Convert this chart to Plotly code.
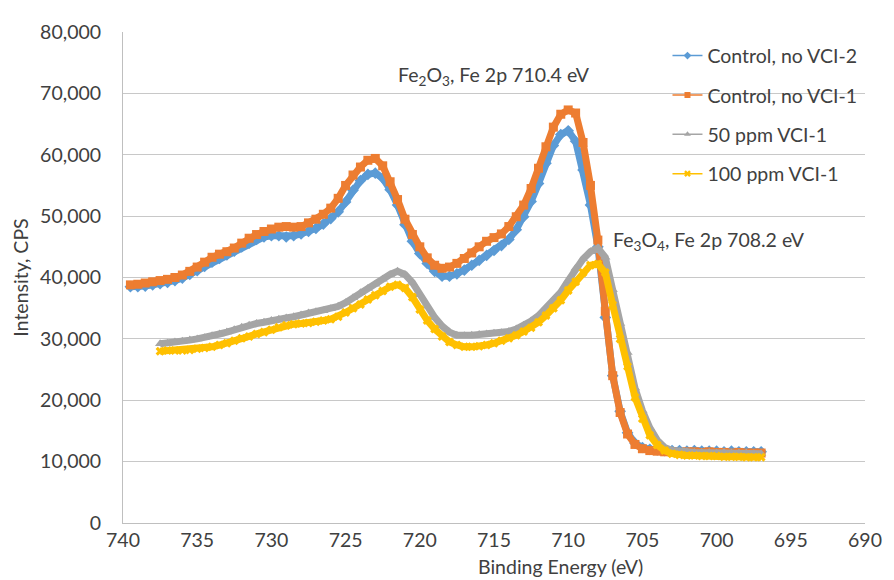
import plotly.graph_objects as go

# ---------------- data ----------------
energy_ctrl = [739.5, 739.0, 738.5, 738.0, 737.5, 737.0, 736.5, 736.0, 735.5, 735.0,
               734.5, 734.0, 733.5, 733.0, 732.5, 732.0, 731.5, 731.0, 730.5, 730.0,
               729.5, 729.0, 728.5, 728.0, 727.5, 727.0, 726.5, 726.0, 725.5, 725.0,
               724.5, 724.0, 723.5, 723.0, 722.5, 722.0, 721.5, 721.0, 720.5, 720.0,
               719.5, 719.0, 718.5, 718.0, 717.5, 717.0, 716.5, 716.0, 715.5, 715.0,
               714.5, 714.0, 713.5, 713.0, 712.5, 712.0, 711.5, 711.0, 710.5, 710.0,
               709.5, 709.0, 708.5, 708.0, 707.5, 707.0, 706.5, 706.0, 705.5, 705.0,
               704.5, 704.0, 703.5, 703.0, 702.5, 702.0, 701.5, 701.0, 700.5, 700.0,
               699.5, 699.0, 698.5, 698.0, 697.5, 697.0]

control_vci2 = [38500, 38500, 38600, 38800, 39000, 39200, 39500, 39900, 40500, 41100,
                41800, 42500, 43100, 43700, 44300, 45000, 45600, 46200, 46600, 46800,
                46800, 46600, 46800, 47100, 47500, 48000, 48700, 49600, 50700, 52300,
                54200, 55800, 56800, 57000, 56200, 54300, 51800, 48600, 45900, 43900,
                42300, 41000, 40200, 40200, 40600, 41200, 42000, 42800, 43600, 44400,
                45200, 46200, 47800, 49900, 52400, 55300, 58600, 61500, 63300, 63900,
                62200, 57500, 51800, 45000, 33500, 24000, 18200, 14700, 13000, 12300,
                12000, 11900, 11800, 11800, 11800, 11700, 11800, 11700, 11700, 11700,
                11600, 11700, 11600, 11600, 11600, 11600]

control_vci1 = [38800, 38900, 39100, 39300, 39500, 39700, 40000, 40400, 41000, 41700,
                42500, 43300, 43800, 44200, 44800, 45600, 46400, 47000, 47500, 47900,
                48200, 48300, 48200, 48300, 48900, 49500, 50300, 51300, 52900, 55000,
                56700, 58000, 59100, 59400, 58200, 55600, 52700, 49500, 47000, 45000,
                43200, 42000, 41500, 41700, 42300, 43100, 44000, 45000, 45900, 46500,
                47100, 48300, 49900, 51800, 54500, 57800, 61300, 64500, 66600, 67300,
                66800, 62000, 55000, 46100, 34500, 24000, 18000, 14500, 12800, 12100,
                11800, 11700, 11600, 11600, 11500, 11600, 11600, 11500, 11600, 11500,
                11500, 11400, 11500, 11400, 11400, 11400]

energy_vci = [737.5, 737.0, 736.5, 736.0, 735.5, 735.0,
              734.5, 734.0, 733.5, 733.0, 732.5, 732.0, 731.5, 731.0, 730.5, 730.0,
              729.5, 729.0, 728.5, 728.0, 727.5, 727.0, 726.5, 726.0, 725.5, 725.0,
              724.5, 724.0, 723.5, 723.0, 722.5, 722.0, 721.5, 721.0, 720.5, 720.0,
              719.5, 719.0, 718.5, 718.0, 717.5, 717.0, 716.5, 716.0, 715.5, 715.0,
              714.5, 714.0, 713.5, 713.0, 712.5, 712.0, 711.5, 711.0, 710.5, 710.0,
              709.5, 709.0, 708.5, 708.0, 707.5, 707.0, 706.5, 706.0, 705.5, 705.0,
              704.5, 704.0, 703.5, 703.0, 702.5, 702.0, 701.5, 701.0, 700.5, 700.0,
              699.5, 699.0, 698.5, 698.0, 697.5, 697.0]

vci_50ppm = [29200, 29300, 29500, 29600, 29800, 30000,
             30200, 30500, 30800, 31100, 31500, 31900, 32200, 32500, 32700, 33000,
             33200, 33400, 33600, 33900, 34200, 34400, 34600, 34900, 35300, 35900,
             36700, 37500, 38200, 38900, 39700, 40500, 41000, 40500, 39200, 37200,
             35300, 33500, 32100, 31100, 30600, 30500, 30600, 30700, 30800, 30900,
             31000, 31200, 31600, 32200, 32900, 33800, 35000, 36300, 37600, 39500,
             41500, 43000, 44200, 44800, 43300, 38000, 32500, 27800, 22000, 18300,
             15500, 13500, 12300, 11800, 11600, 11600, 11500, 11500, 11500, 11400,
             11500, 11400, 11400, 11400, 11300, 11300]

vci_100ppm = [28000, 28100, 28100, 28100, 28200, 28400,
              28500, 28700, 29000, 29300, 29700, 30100, 30400, 30800, 31100, 31500,
              31900, 32200, 32400, 32500, 32600, 32800, 33000, 33200, 33600, 34300,
              35000, 35600, 36400, 37100, 37800, 38500, 38800, 38300, 36800, 34800,
              33000, 31600, 30400, 29500, 29000, 28700, 28700, 28800, 29000, 29300,
              29700, 30100, 30600, 31200, 31800, 32700, 33800, 35000, 36300, 37900,
              39300, 40800, 42000, 42200, 40800, 35500, 30000, 25500, 20500, 17000,
              14300, 12700, 11800, 11300, 11100, 11000, 11000, 10900, 10900, 10900,
              10800, 10800, 10800, 10700, 10700, 10700]

series_names = ["Control, no VCI-2", "Control, no VCI-1", "50 ppm VCI-1", "100 ppm VCI-1"]
x_ticks = [740, 735, 730, 725, 720, 715, 710, 705, 700, 695, 690]
y_ticks = [0, 10000, 20000, 30000, 40000, 50000, 60000, 70000, 80000]

# ---------------- style ----------------
colors = ["#5B9BD5", "#ED7D31", "#A5A5A5", "#FFC000"]
symbols = ["diamond", "square", "triangle-up", "x"]
FONT = "Lato, 'Open Sans', sans-serif"
TXT = "#404040"
FS = 19.5

data = [
    (energy_ctrl, control_vci2),
    (energy_ctrl, control_vci1),
    (energy_vci, vci_50ppm),
    (energy_vci, vci_100ppm),
]

fig = go.Figure()
for i, (xs, ys) in enumerate(data):
    fig.add_trace(go.Scatter(
        x=xs, y=ys, mode="lines+markers", showlegend=False,
        line=dict(color=colors[i], width=7),
        marker=dict(color=colors[i], size=9 if i != 3 else 8,
                    symbol=symbols[i], line=dict(width=0)),
        hoverinfo="skip",
    ))

for i, name in enumerate(series_names):
    fig.add_trace(go.Scatter(
        x=[None], y=[None], mode="lines+markers", name=name,
        legendgroup=f"g{i}",
        line=dict(color=colors[i], width=1.5),
        marker=dict(color=colors[i], size=6, symbol=symbols[i]),
    ))

# the page body has an 8px default margin, so the figure is sized/margined to
# place the plot area at the reference position inside the 894x580 window
fig.update_layout(
    width=886, height=572,
    margin=dict(l=109, r=20, t=17, b=57),
    paper_bgcolor="white", plot_bgcolor="white",
    font=dict(family=FONT, size=FS, color=TXT),
    showlegend=True,
    legend=dict(x=0.7338, y=0.991, xanchor="left", yanchor="top",
                bgcolor="rgba(255,255,255,0)", traceorder="grouped",
                tracegroupgap=11, font=dict(size=FS, color=TXT),
                itemwidth=30),
    shapes=[dict(type="rect", xref="paper", yref="paper",
                 x0=0.724, x1=1.0, y0=0.769, y1=0.96,
                 fillcolor="white", line=dict(width=0), layer="between")],
)

fig.update_xaxes(
    range=[740, 690], tickvals=x_ticks, ticktext=[str(v) for v in x_ticks],
    showgrid=False, zeroline=False, showline=True, linecolor="#BFBFBF",
    linewidth=1, ticks="", ticklabelstandoff=0,
    tickfont=dict(size=FS, color=TXT),
)
fig.update_yaxes(
    range=[0, 80000], tickvals=y_ticks, tickformat=",d",
    showgrid=True, gridcolor="#C8C8C8", gridwidth=1,
    zeroline=False, showline=True, linecolor="#BFBFBF", linewidth=1,
    ticks="", ticklabelstandoff=17,
    tickfont=dict(size=FS, color=TXT),
    title=dict(text="Intensity, CPS", font=dict(size=FS, color=TXT), standoff=6),
)

fig.add_annotation(
    x=721.6, y=72800, xref="x", yref="y", xanchor="left", yanchor="middle",
    text="Fe<sub>2</sub>O<sub>3</sub>, Fe 2p 710.4 eV", showarrow=False,
    font=dict(size=FS, color=TXT),
)
fig.add_annotation(
    x=707.1, y=45900, xref="x", yref="y", xanchor="left", yanchor="middle",
    text="Fe<sub>3</sub>O<sub>4</sub>, Fe 2p 708.2 eV", showarrow=False,
    font=dict(size=FS, color=TXT),
)
fig.add_annotation(
    x=0.59, y=-0.089, xref="paper", yref="paper", xanchor="center", yanchor="middle",
    text="Binding Energy (eV)", showarrow=False,
    font=dict(size=FS, color=TXT),
)

fig.write_html("out.html")
